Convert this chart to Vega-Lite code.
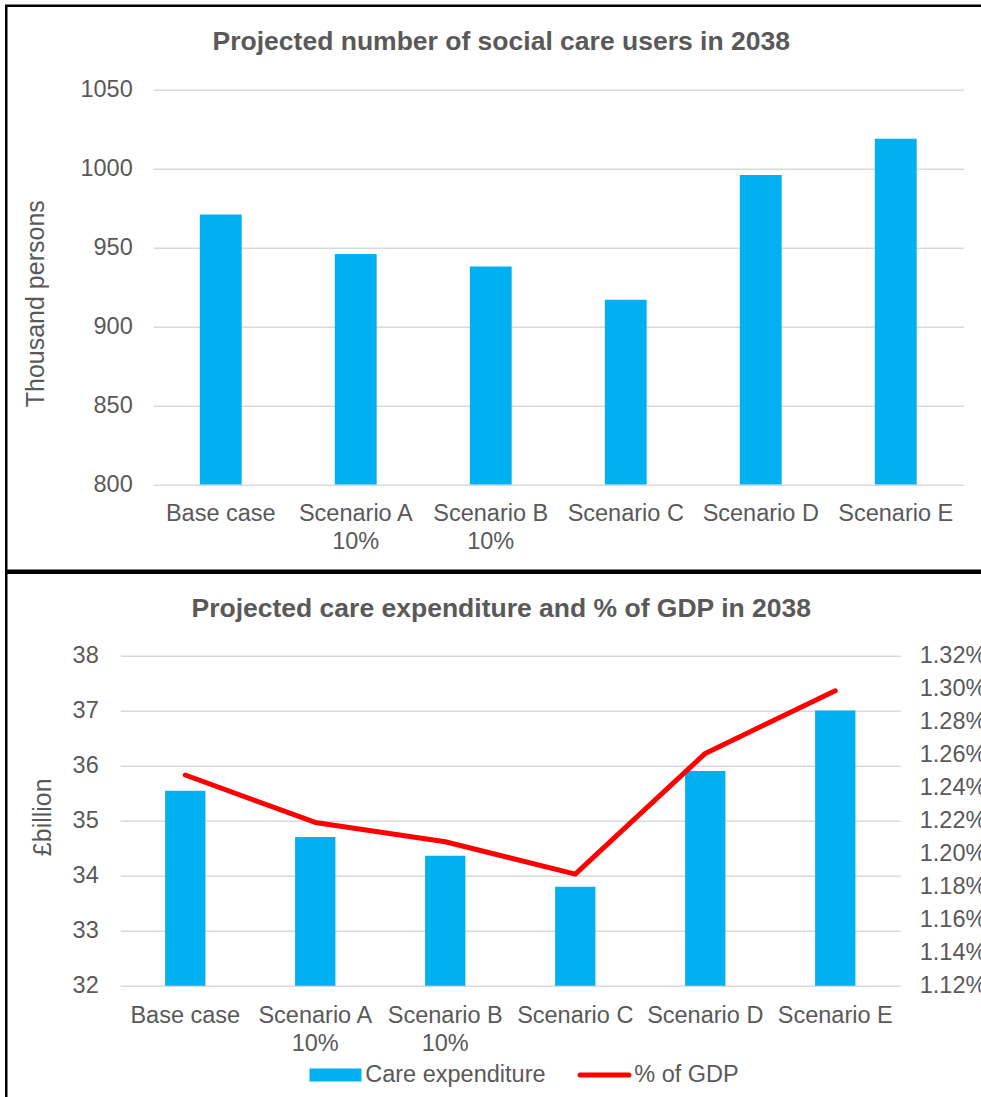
{
  "$schema": "https://vega.github.io/schema/vega-lite/v6.json",
  "background": "white",
  "padding": {"left": 4.25, "top": 3.75, "right": 0, "bottom": 0},
  "spacing": -2.5,
  "datasets": {
    "users": [
      {"cat": "Base case", "users": 971},
      {"cat": "Scenario A|10%", "users": 946},
      {"cat": "Scenario B|10%", "users": 938},
      {"cat": "Scenario C", "users": 917},
      {"cat": "Scenario D", "users": 996},
      {"cat": "Scenario E", "users": 1019}
    ],
    "cost": [
      {"cat": "Base case", "exp": 35.54, "gdp": 0.012476},
      {"cat": "Scenario A|10%", "exp": 34.70, "gdp": 0.012189},
      {"cat": "Scenario B|10%", "exp": 34.36, "gdp": 0.012072},
      {"cat": "Scenario C", "exp": 33.80, "gdp": 0.011876},
      {"cat": "Scenario D", "exp": 35.90, "gdp": 0.012607},
      {"cat": "Scenario E", "exp": 37.00, "gdp": 0.012986}
    ]
  },
  "vconcat": [
    {
      "width": 990,
      "height": 565,
      "title": {"text": "Projected number of social care users in 2038"},
      "data": {"name": "users"},
      "mark": {"type": "bar", "color": "#00B0F0"},
      "encoding": {
        "x": {
          "field": "cat", "type": "nominal", "sort": null, "title": null,
          "scale": {"range": [147, 957], "paddingInner": 0.69, "paddingOuter": 0.345},
          "axis": {"labelExpr": "split(datum.label, '|')", "labelAngle": 0, "labelPadding": 17, "labelLineHeight": 28, "offset": -86.3, "grid": false, "labelBaseline": "top"}
        },
        "y": {
          "field": "users", "type": "quantitative", "title": "Thousand persons",
          "scale": {"domain": [800, 1050], "range": [478.7, 84], "nice": false, "zero": false},
          "axis": {"values": [800, 850, 900, 950, 1000, 1050], "format": "d", "offset": -147, "labelPadding": 21, "titleX": -105, "titleY": 297.5, "titleAngle": -90, "titleBaseline": "bottom", "titleAlign": "center"}
        },
        "y2": {"datum": 800}
      }
    },
    {
      "width": 990,
      "height": 530,
      "title": {"text": "Projected care expenditure and % of GDP in 2038"},
      "data": {"name": "cost"},
      "encoding": {
        "x": {
          "field": "cat", "type": "nominal", "sort": null, "title": null,
          "scale": {"range": [114, 894], "paddingInner": 0.69, "paddingOuter": 0.345},
          "axis": {"labelExpr": "split(datum.label, '|')", "labelAngle": 0, "labelPadding": 18, "labelLineHeight": 28, "offset": -117, "grid": false, "labelBaseline": "top"}
        }
      },
      "layer": [
        {
          "mark": {"type": "bar"},
          "encoding": {
            "y": {
              "field": "exp", "type": "quantitative", "title": "£billion",
              "scale": {"domain": [32, 38], "range": [413, 82.7], "nice": false, "zero": false},
              "axis": {"values": [32, 33, 34, 35, 36, 37, 38], "offset": -114, "labelPadding": 22, "titleX": -65, "titleY": 244, "titleAngle": -90, "titleBaseline": "bottom", "titleAlign": "center"}
            },
            "y2": {"datum": 32},
            "color": {
              "datum": "Care expenditure", "type": "nominal",
              "scale": {"domain": ["Care expenditure", "% of GDP"], "range": ["#00B0F0", "#FF0000"]},
              "legend": {
                "orient": "none", "legendX": 304.5, "legendY": 1057, "direction": "horizontal", "title": null,
                "symbolSize": 2704, "labelOffset": 31, "columnPadding": 24, "padding": 0, "labelLimit": 400,
                "labelFontSize": 23.5, "labelColor": "#595959", "labelFont": "Liberation Sans",
                "encode": {
                  "symbols": {
                    "update": {
                      "shape": {"signal": "datum.value === '% of GDP' ? 'M-0.44,0H1.44' : 'M-0.5,-0.25H1.5V0.25H-0.5Z'"},
                      "fill": {"signal": "datum.value === '% of GDP' ? 'transparent' : '#00B0F0'"},
                      "stroke": {"signal": "datum.value === '% of GDP' ? '#FF0000' : 'transparent'"},
                      "strokeWidth": {"signal": "datum.value === '% of GDP' ? 5 : 0"},
                      "strokeCap": {"value": "round"},
                      "opacity": {"value": 1}
                    }
                  }
                }
              }
            }
          }
        },
        {
          "mark": {"type": "line", "strokeWidth": 5, "strokeCap": "round", "strokeJoin": "round"},
          "encoding": {
            "y": {
              "field": "gdp", "type": "quantitative", "title": null,
              "scale": {"domain": [0.0112, 0.0132], "range": [413, 82.7], "nice": false, "zero": false},
              "axis": {"orient": "right", "values": [0.0112, 0.0114, 0.0116, 0.0118, 0.012, 0.0122, 0.0124, 0.0126, 0.0128, 0.013, 0.0132], "format": ".2%", "offset": -96, "grid": false, "labelPadding": 19}
            },
            "color": {"datum": "% of GDP", "type": "nominal"}
          }
        }
      ],
      "resolve": {"scale": {"y": "independent"}, "axis": {"y": "independent"}}
    }
  ],
  "config": {
    "font": "Liberation Sans",
    "view": {"stroke": "#000000", "strokeWidth": 2.5},
    "axis": {
      "labelFont": "Liberation Sans", "labelFontSize": 23.5, "labelColor": "#595959",
      "domain": false, "ticks": false, "tickSize": 0,
      "gridColor": "#D9D9D9", "gridWidth": 1.5,
      "titleFont": "Liberation Sans", "titleFontSize": 25, "titleFontWeight": "normal", "titleColor": "#595959",
      "labelOverlap": false
    },
    "title": {"font": "Liberation Sans", "fontSize": 26.5, "fontWeight": "bold", "color": "#595959", "anchor": "middle", "offset": -50}
  }
}
